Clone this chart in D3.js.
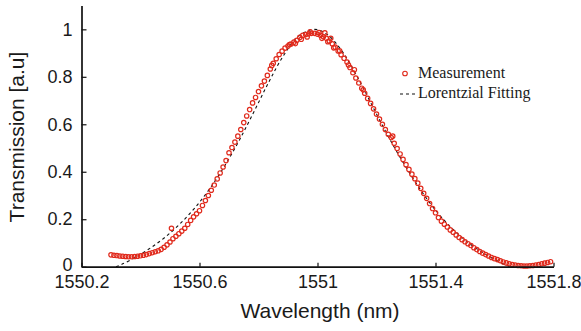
<!DOCTYPE html>
<html><head><meta charset="utf-8">
<script src="https://cdn.jsdelivr.net/npm/d3@7"></script>
<style>
html,body{margin:0;padding:0;background:#fff;}
svg{display:block;}
</style></head>
<body>
<svg id="chart" width="581" height="331"></svg>
<script>
// ---- data ----
const measWavelength = [
1550.30,1550.31,1550.32,1550.33,1550.34,1550.35,1550.36,1550.37,1550.38,1550.39,
1550.40,1550.41,1550.42,1550.43,1550.44,1550.45,1550.46,1550.47,1550.48,1550.49,
1550.50,1550.51,1550.52,1550.53,1550.54,1550.55,1550.56,1550.57,1550.58,1550.59,
1550.60,1550.61,1550.62,1550.63,1550.64,1550.65,1550.66,1550.67,1550.68,1550.69,
1550.70,1550.71,1550.72,1550.73,1550.74,1550.75,1550.76,1550.77,1550.78,1550.79,
1550.80,1550.81,1550.82,1550.83,1550.84,1550.85,1550.86,1550.87,1550.88,1550.89,
1550.90,1550.91,1550.92,1550.93,1550.94,1550.95,1550.96,1550.97,1550.98,1550.99,
1551.00,1551.01,1551.02,1551.03,1551.04,1551.05,1551.06,1551.07,1551.08,1551.09,
1551.10,1551.11,1551.12,1551.13,1551.14,1551.15,1551.16,1551.17,1551.18,1551.19,
1551.20,1551.21,1551.22,1551.23,1551.24,1551.25,1551.26,1551.27,1551.28,1551.29,
1551.30,1551.31,1551.32,1551.33,1551.34,1551.35,1551.36,1551.37,1551.38,1551.39,
1551.40,1551.41,1551.42,1551.43,1551.44,1551.45,1551.46,1551.47,1551.48,1551.49,
1551.50,1551.51,1551.52,1551.53,1551.54,1551.55,1551.56,1551.57,1551.58,1551.59,
1551.60,1551.61,1551.62,1551.63,1551.64,1551.65,1551.66,1551.67,1551.68,1551.69,
1551.70,1551.71,1551.72,1551.73,1551.74,1551.75,1551.76,1551.77,1551.78,1551.79,
// extra scattered samples
1550.505,1550.845,1550.905,1550.925,1550.945,1550.965,1550.975,1551.005,1551.015,
1551.025,1551.035,1551.045,1551.055,1551.075,1551.105,1551.125,1551.155,1551.255
];
const measTransmission = [
0.050,0.048,0.047,0.045,0.044,0.043,0.042,0.042,0.043,0.044,
0.046,0.048,0.051,0.055,0.059,0.063,0.067,0.073,0.082,0.092,
0.104,0.118,0.128,0.139,0.150,0.162,0.178,0.195,0.210,0.223,
0.236,0.258,0.279,0.300,0.322,0.344,0.370,0.395,0.420,0.447,
0.480,0.502,0.525,0.550,0.578,0.607,0.635,0.662,0.690,0.713,
0.738,0.762,0.782,0.806,0.833,0.857,0.876,0.894,0.908,0.921,
0.930,0.938,0.946,0.954,0.966,0.975,0.978,0.981,0.983,0.983,
0.979,0.975,0.969,0.962,0.951,0.939,0.925,0.909,0.893,0.878,
0.862,0.839,0.817,0.795,0.774,0.752,0.731,0.709,0.688,0.665,
0.643,0.622,0.600,0.578,0.558,0.544,0.520,0.498,0.475,0.452,
0.430,0.410,0.390,0.371,0.352,0.330,0.309,0.288,0.266,0.245,
0.227,0.207,0.192,0.179,0.167,0.155,0.145,0.134,0.123,0.114,
0.105,0.097,0.089,0.080,0.072,0.064,0.057,0.051,0.045,0.039,
0.034,0.030,0.025,0.020,0.016,0.012,0.009,0.007,0.005,0.004,
0.003,0.003,0.004,0.005,0.007,0.009,0.012,0.015,0.018,0.021,
0.162,0.848,0.936,0.940,0.958,0.968,0.990,0.986,0.962,
0.985,0.948,0.962,0.922,0.910,0.850,0.830,0.745,0.550
];
const fitWavelength = [
1550.317,1550.335,1550.385,1550.435,1550.485,1550.535,1550.585,1550.635,1550.685,1550.735,
1550.785,1550.835,1550.885,1550.935,1550.990,1551.035,1551.085,1551.135,1551.185,1551.235,
1551.285,1551.335,1551.385,1551.435,1551.485,1551.535,1551.585,1551.635,1551.653
];
const fitTransmission = [
0.000,0.009,0.041,0.080,0.126,0.182,0.249,0.329,0.424,0.533,
0.654,0.778,0.890,0.971,1.000,0.976,0.905,0.800,0.680,0.560,
0.450,0.350,0.262,0.188,0.128,0.080,0.041,0.009,0.000
];
const xTickValues = [1550.2, 1550.6, 1551.0, 1551.4, 1551.8];
const xTickLabels = ["1550.2", "1550.6", "1551", "1551.4", "1551.8"];
const yTickValues = [0, 0.2, 0.4, 0.6, 0.8, 1.0];
const yTickLabels = ["0", "0.2", "0.4", "0.6", "0.8", "1"];
const legendLabels = ["Measurement", "Lorentzial Fitting"];

// ---- drawing ----
const RED = "#e02a1c";
const svg = d3.select("#chart");
const x = d3.scaleLinear().domain([1550.2, 1551.8]).range([81.5, 553.5]);
const y = d3.scaleLinear().domain([0, 1.1]).range([266.7, 5.6]);

// fit line
const fitData = fitWavelength.map((w, i) => [w, fitTransmission[i]]);
svg.append("path")
  .datum(fitData)
  .attr("fill", "none")
  .attr("stroke", "#111")
  .attr("stroke-width", 1.1)
  .attr("stroke-dasharray", "3,3")
  .attr("d", d3.line().x(d => x(d[0])).y(d => y(d[1])).curve(d3.curveCatmullRom.alpha(0.5)));

// measurement circles
const measData = measWavelength.map((w, i) => [w, measTransmission[i]]);
svg.append("g").selectAll("circle")
  .data(measData).join("circle")
  .attr("cx", d => x(d[0]))
  .attr("cy", d => y(d[1]))
  .attr("r", 2.2)
  .attr("fill", "none")
  .attr("stroke", RED)
  .attr("stroke-width", 1.2);

// axes
const xAxis = d3.axisBottom(x).tickValues(xTickValues)
  .tickFormat((d, i) => xTickLabels[i])
  .tickSizeInner(-4).tickSizeOuter(0).tickPadding(9);
const yAxis = d3.axisLeft(y).tickValues(yTickValues)
  .tickFormat((d, i) => yTickLabels[i])
  .tickSizeInner(-5).tickSizeOuter(0).tickPadding(9);

const gx = svg.append("g").attr("transform", "translate(0,266.7)").call(xAxis);
const gy = svg.append("g").attr("transform", "translate(81.5,0)").call(yAxis);
[gx, gy].forEach(g => {
  g.select(".domain").attr("stroke", "#111").attr("stroke-width", 1.7);
  g.selectAll(".tick line").attr("stroke", "#111").attr("stroke-width", 1.2);
  g.selectAll(".tick text")
    .attr("fill", "#1a1a1a")
    .style("font-family", "'Liberation Sans', Arial, sans-serif")
    .style("font-size", "18px");
});
// nudge the y "0" label up slightly so it does not touch "1550.2"
gy.selectAll(".tick text").filter((d, i) => i === 0).attr("dy", "0.2em");

// axis titles
svg.append("text")
  .attr("x", 320).attr("y", 318)
  .attr("text-anchor", "middle")
  .attr("fill", "#1a1a1a")
  .style("font-family", "'Liberation Sans', Arial, sans-serif")
  .style("font-size", "21px")
  .text("Wavelength (nm)");
svg.append("text")
  .attr("transform", "translate(24,137) rotate(-90)")
  .attr("text-anchor", "middle")
  .attr("fill", "#1a1a1a")
  .style("font-family", "'Liberation Sans', Arial, sans-serif")
  .style("font-size", "21px")
  .text("Transmission [a.u]");

// legend
const lg = svg.append("g");
lg.append("circle").attr("cx", 405).attr("cy", 73.5).attr("r", 2.3)
  .attr("fill", "none").attr("stroke", RED).attr("stroke-width", 1.1);
lg.append("line").attr("x1", 400).attr("x2", 417).attr("y1", 94).attr("y2", 94)
  .attr("stroke", "#111").attr("stroke-width", 1.1).attr("stroke-dasharray", "3,3");
lg.selectAll("text.leg").data(legendLabels).join("text")
  .attr("class", "leg")
  .attr("x", 418)
  .attr("y", (d, i) => 78 + i * 20)
  .attr("fill", "#1a1a1a")
  .style("font-family", "'Liberation Serif', 'Times New Roman', serif")
  .style("font-size", "16px")
  .text(d => d);
</script>
</body></html>
